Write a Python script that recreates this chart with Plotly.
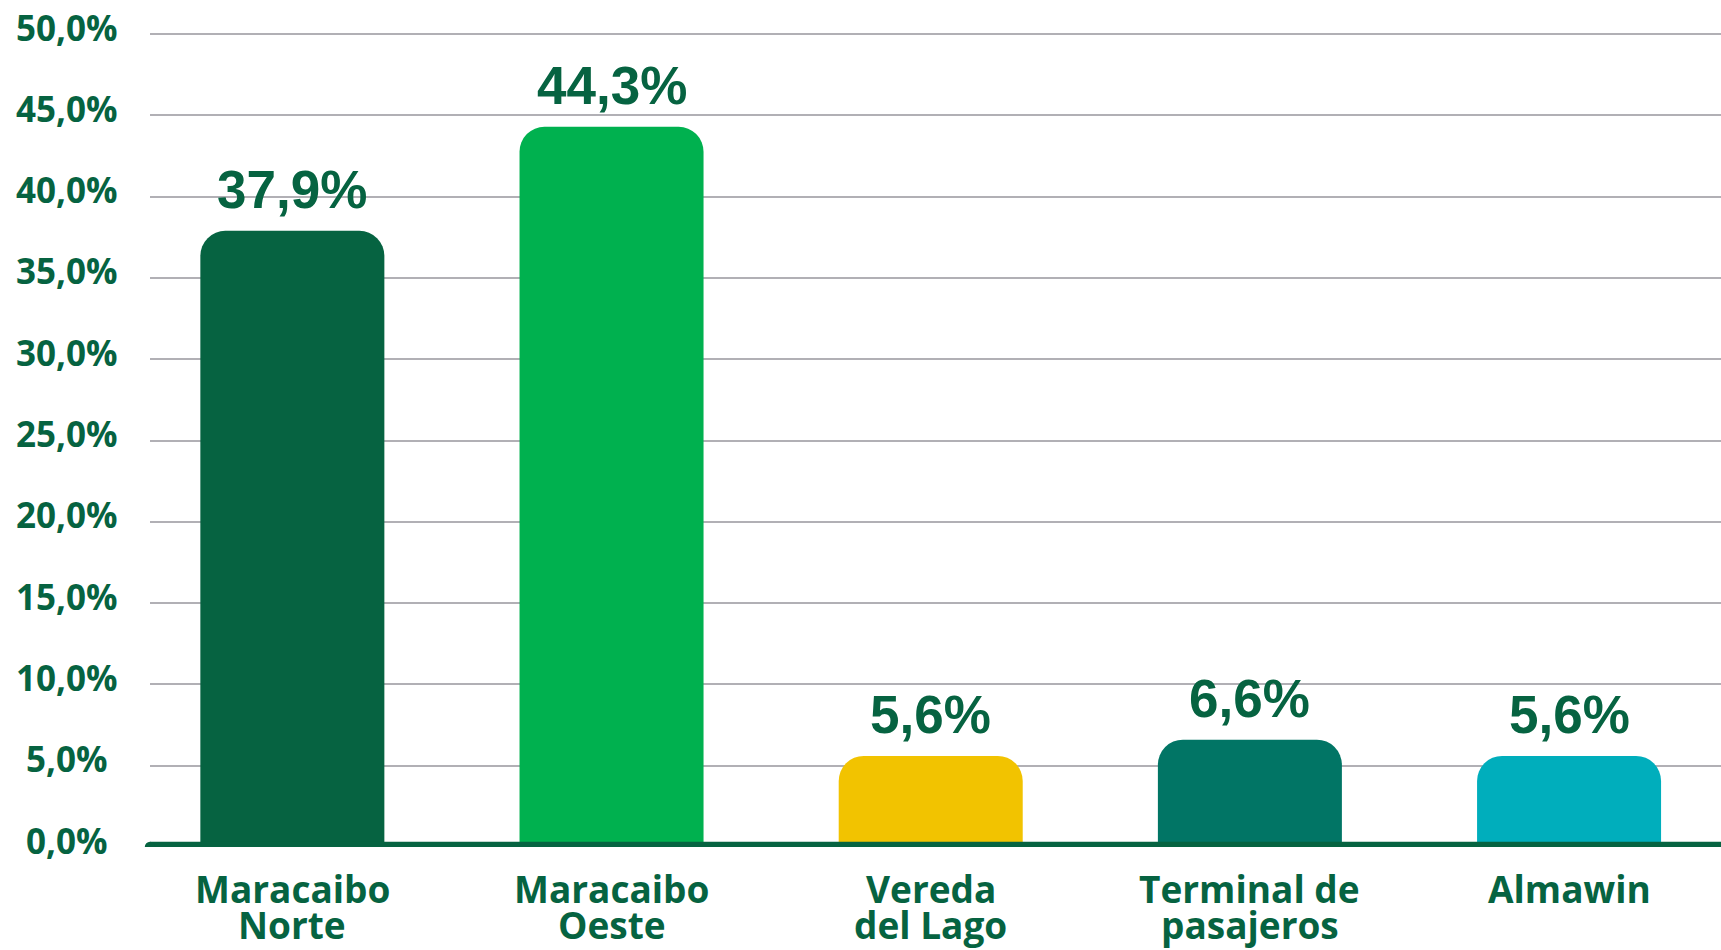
import plotly.graph_objects as go

categories = ["Maracaibo Norte", "Maracaibo Oeste", "Vereda del Lago", "Terminal de pasajeros", "Almawin"]
label_line1 = ["Maracaibo", "Maracaibo", "Vereda", "Terminal de", "Almawin"]
label_line2 = ["Norte", "Oeste", "del Lago", "pasajeros", ""]
values = [37.9, 44.3, 5.6, 6.6, 5.6]
bar_colors = ["#066341", "#00B14F", "#F2C300", "#017565", "#00AEBC"]
y_ticks = [0, 5, 10, 15, 20, 25, 30, 35, 40, 45, 50]
y_tick_labels = ["0,0%", "5,0%", "10,0%", "15,0%", "20,0%", "25,0%", "30,0%", "35,0%", "40,0%", "45,0%", "50,0%"]

TEXT = "#066341"
LABEL_FONT = "Open Sans"
VALUE_FONT = "Liberation Sans, Arial"

fig = go.Figure()
fig.add_trace(go.Bar(
    x=categories, y=values,
    marker=dict(color=bar_colors, cornerradius=25, line=dict(width=0)),
    width=0.5765,
    hoverinfo="skip",
))

annotations = []
# value labels
for c, v in zip(categories, values):
    annotations.append(dict(
        x=c, y=v, xref="x", yref="y", text=f"{v:.1f}%".replace(".", ","),
        showarrow=False, xanchor="center", yanchor="bottom", yshift=10,
        font=dict(family=VALUE_FONT, size=53, color=TEXT, weight=700),
    ))
# y tick labels (centered)
for t, lab in zip(y_ticks, y_tick_labels):
    annotations.append(dict(
        x=0, y=t, xref="paper", yref="y", text=lab, showarrow=False,
        xanchor="center", yanchor="middle", xshift=-83, yshift=7,
        font=dict(family=LABEL_FONT, size=35, color=TEXT, weight=700),
    ))
# category labels
for c, l1, l2 in zip(categories, label_line1, label_line2):
    annotations.append(dict(
        x=c, y=0, xref="x", yref="paper", text=l1, showarrow=False,
        xanchor="center", yanchor="middle", yshift=-41,
        font=dict(family=LABEL_FONT, size=37, color=TEXT, weight=700),
    ))
    if l2:
        annotations.append(dict(
            x=c, y=0, xref="x", yref="paper", text=l2, showarrow=False,
            xanchor="center", yanchor="middle", yshift=-77,
            font=dict(family=LABEL_FONT, size=37, color=TEXT, weight=700),
        ))

shapes = [
    dict(type="line", xref="paper", yref="y", x0=0, x1=1, y0=0, y1=0,
         line=dict(color=TEXT, width=10.5), layer="above"),
    dict(type="circle", xref="paper", yref="y", xsizemode="pixel", ysizemode="pixel",
         xanchor=0, yanchor=0, x0=-5.2, x1=5.2, y0=-5.2, y1=5.2,
         fillcolor=TEXT, line=dict(width=0), layer="above"),
]

fig.update_layout(
    width=1721, height=950,
    margin=dict(l=150, r=0, t=26, b=103),
    paper_bgcolor="white", plot_bgcolor="white",
    showlegend=False,
    annotations=annotations,
    shapes=shapes,
    xaxis=dict(range=[-0.446, 4.476], showticklabels=False, showgrid=False,
               zeroline=False, showline=False, ticks=""),
    yaxis=dict(range=[0, 50.5], tickvals=y_ticks, showticklabels=False,
               showgrid=True, gridcolor="#B1B0B5", gridwidth=2.2,
               zeroline=False, showline=False, ticks=""),
)

fig.write_html(
    "out.html",
    config={"displayModeBar": False},
    post_script="document.body.style.margin='0';document.documentElement.style.overflow='hidden';",
)
